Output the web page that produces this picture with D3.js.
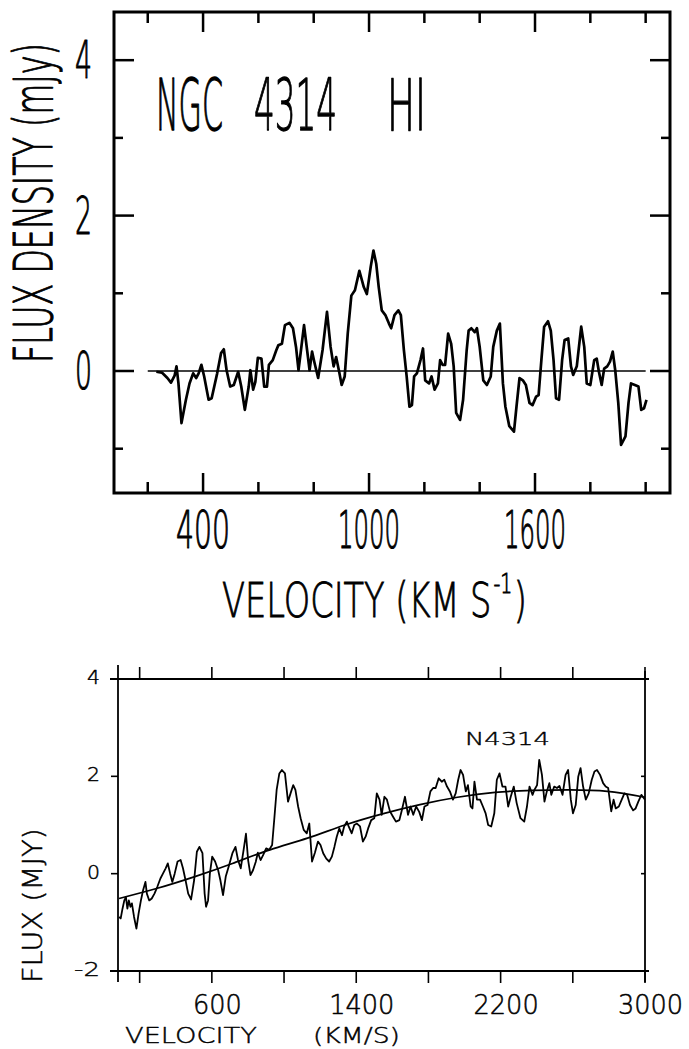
<!DOCTYPE html>
<html>
<head>
<meta charset="utf-8">
<script src="https://cdn.jsdelivr.net/npm/d3@7"></script>
<style>
html,body{margin:0;padding:0;background:#fff;}
svg{display:block;}
</style>
</head>
<body>
<script>
// ---------- DATA ----------
// Top panel: NGC 4314 HI spectrum
const topVel = [231,251,271,284,297,304,311,322,338,351,364,375,384,394,404,420,431,451,465,475,485,498,511,527,538,551,565,571,581,589,598,611,621,631,638,652,665,672,685,696,712,725,736,745,754,765,776,785,794,802,816,832,848,861,872,881,892,901,912,923,936,949,965,981,992,1006,1016,1026,1035,1046,1059,1072,1080,1092,1106,1115,1126,1136,1146,1155,1163,1173,1186,1195,1203,1217,1226,1237,1249,1257,1266,1275,1286,1297,1306,1315,1329,1340,1353,1360,1370,1382,1390,1400,1413,1426,1440,1449,1462,1473,1484,1493,1507,1524,1533,1544,1556,1567,1580,1591,1604,1613,1623,1633,1647,1657,1667,1676,1687,1698,1707,1720,1730,1738,1751,1767,1778,1787,1800,1814,1823,1831,1841,1850,1861,1871,1881,1890,1901,1911,1927,1938,1947,1961,1974,1984,1994,2003];
const topFlux = [-0.01,-0.02,-0.09,-0.15,-0.06,0.06,-0.16,-0.67,-0.37,-0.16,-0.03,-0.09,-0.03,0.08,-0.07,-0.37,-0.35,-0.03,0.23,0.28,0.01,-0.20,-0.18,-0.01,-0.20,-0.50,-0.20,0.01,-0.24,-0.14,0.17,0.16,-0.20,-0.20,0.08,0.14,0.27,0.33,0.35,0.59,0.62,0.55,0.31,0.01,0.27,0.59,0.27,0.01,0.25,0.12,-0.09,0.27,0.76,0.31,0.06,0.18,-0.01,-0.18,-0.07,0.48,0.97,1.04,1.29,1.08,0.99,1.34,1.55,1.38,1.08,0.78,0.72,0.61,0.55,0.72,0.78,0.72,0.27,-0.07,-0.46,-0.44,-0.07,-0.03,0.14,0.29,-0.12,-0.16,-0.07,-0.24,-0.16,0.14,0.08,0.08,0.48,0.35,0.06,-0.54,-0.63,-0.37,0.27,0.52,0.55,0.50,0.55,0.31,-0.12,-0.18,-0.07,0.31,0.52,0.61,-0.16,-0.46,-0.71,-0.78,-0.46,-0.09,-0.12,-0.18,-0.41,-0.44,-0.33,-0.31,0.14,0.57,0.64,0.52,0.14,-0.35,-0.37,0.14,0.40,0.42,0.06,-0.05,0.06,0.57,0.31,-0.16,-0.18,0.14,0.16,-0.01,-0.18,0.03,0.06,0.12,0.25,0.01,-0.41,-0.95,-0.84,-0.41,-0.16,-0.18,-0.20,-0.50,-0.48,-0.37];
const topZeroLine = [200, 2000];
const topXTicks = [200,400,600,800,1000,1200,1400,1600,1800,2000];
const topXLabels = [400,1000,1600];
const topYTicks = [-1,0,1,2,3,4];
const topYLabels = [0,2,4];
const topTitle = ["NGC", "4314", "HI"];
const topYTitle = "FLUX DENSITY (mJy)";
const topXTitle = "VELOCITY (KM S";
const topXTitleSup = "-1";

// Bottom panel: N4314 spectrum on sloped baseline with polynomial fit
const botVel = [86,95,105,115,124,132,140,149,157,169,182,194,207,219,232,240,253,267,282,298,315,329,344,356,369,381,394,410,427,440,454,469,485,502,517,531,548,560,568,579,589,602,618,635,647,662,677,693,714,731,745,760,776,789,801,814,828,843,855,870,884,901,918,934,947,959,974,988,1005,1022,1036,1051,1063,1078,1092,1109,1126,1140,1155,1171,1188,1202,1217,1234,1250,1265,1279,1292,1306,1321,1333,1348,1358,1375,1389,1404,1421,1437,1452,1466,1483,1500,1514,1529,1541,1556,1570,1587,1604,1620,1639,1653,1670,1687,1701,1716,1732,1749,1764,1778,1795,1811,1826,1840,1857,1874,1888,1903,1919,1936,1951,1965,1978,1992,2007,2019,2034,2044,2055,2069,2086,2102,2117,2131,2148,2165,2179,2194,2210,2227,2242,2256,2273,2289,2310,2331,2346,2360,2377,2387,2402,2414,2429,2443,2456,2470,2481,2497,2512,2526,2543,2560,2574,2589,2601,2616,2630,2643,2657,2672,2688,2705,2720,2734,2751,2768,2782,2796,2813,2826,2838,2855,2871,2886,2901,2917,2934,2948,2963,2980,2994,3000];
const botFlux = [-0.89,-0.92,-0.72,-0.55,-0.48,-0.72,-0.55,-0.68,-0.61,-0.89,-1.13,-0.82,-0.55,-0.34,-0.17,-0.41,-0.55,-0.51,-0.41,-0.27,-0.10,0.00,0.11,0.21,0.00,-0.17,0.00,0.25,0.28,0.11,-0.13,-0.41,-0.53,-0.13,0.45,0.55,0.42,-0.41,-0.68,-0.55,0.00,0.35,0.25,0.07,-0.13,-0.44,-0.06,0.14,0.42,0.55,0.28,0.11,0.49,0.82,0.28,-0.03,0.07,0.24,0.43,0.28,0.38,0.52,0.49,0.59,1.17,1.72,2.06,2.13,2.06,1.48,1.65,1.82,1.72,1.38,1.14,0.90,0.83,1.03,0.25,0.43,0.66,0.59,0.42,0.31,0.25,0.35,0.55,0.76,0.93,0.79,0.97,1.07,0.97,0.83,1.00,1.03,0.97,0.66,0.76,0.93,1.10,1.14,1.65,1.52,1.21,1.58,1.52,1.28,1.17,1.07,1.10,1.31,1.58,1.21,1.38,1.21,1.38,1.27,1.10,1.38,1.41,1.69,1.76,1.76,1.96,1.89,1.93,1.79,1.69,1.52,1.65,1.93,2.13,2.03,1.69,1.82,1.38,1.34,1.89,1.52,1.52,1.38,1.24,1.00,0.97,1.24,1.93,2.06,1.79,1.79,1.38,1.58,1.79,1.45,1.14,1.07,1.38,1.79,1.62,1.72,1.82,2.34,2.03,1.48,1.69,1.86,1.62,1.79,1.76,1.80,1.62,2.03,2.13,1.52,1.24,1.41,1.99,2.17,1.79,1.52,1.65,1.93,2.10,2.13,2.03,1.86,1.79,1.76,1.28,1.52,1.34,1.38,1.52,1.65,1.62,1.41,1.30,1.34,1.48,1.62,1.55,1.52];
const fitVel = [86,298,506,714,922,1130,1337,1545,1753,1961,2169,2377,2585,2792,3000];
const fitFlux = [-0.51,-0.30,-0.06,0.21,0.49,0.73,1.00,1.23,1.42,1.57,1.67,1.71,1.72,1.69,1.57];
const botXTicks = [200,600,1000,1400,1800,2200,2600,3000];
const botXLabels = [600,1400,2200,3000];
const botYTicks = [-2,0,2,4];
const botYLabels = ["-2","0","2","4"];
const botTag = "N4314";
const botYTitle = "FLUX  (MJY)";
const botXTitle = ["VELOCITY", "(KM/S)"];

// ---------- DRAW ----------
const W = 689, H = 1049;
const svg = d3.select("body").append("svg").attr("width", W).attr("height", H);
const plotFont = "'DejaVu Sans',sans-serif";
const lightWeight = 200;

// draws a text at natural size, then squeezes it horizontally to a target width;
// a thin non-scaling outline gives the pen-plotter stroke weight
function fitText(g, str, x, y, size, width, anchor, outline, rotate) {
  const t = g.append("text")
    .attr("font-family", plotFont).attr("font-size", size).attr("font-weight", lightWeight)
    .attr("text-anchor", anchor || "start")
    .attr("fill", "#000").attr("stroke", "#000").attr("stroke-width", outline)
    .attr("stroke-linejoin", "round")
    .attr("vector-effect", "non-scaling-stroke")
    .text(str);
  const len = t.node().getComputedTextLength();
  const s = width / len;
  t.attr("transform", `translate(${x},${y})${rotate ? " rotate(-90)" : ""} scale(${s},1)`);
  return t;
}

// ===== Top panel =====
const x1 = d3.scaleLinear().domain([78, 2088]).range([114, 670]);
const y1 = d3.scaleLinear().domain([-1.57, 4.62]).range([493, 12]);
const g1 = svg.append("g");

g1.append("rect")
  .attr("x", x1.range()[0]).attr("y", y1.range()[1])
  .attr("width", x1.range()[1] - x1.range()[0])
  .attr("height", y1.range()[0] - y1.range()[1])
  .attr("fill", "none").attr("stroke", "#000").attr("stroke-width", 3);

const isTopXMajor = v => topXLabels.includes(v);
const isTopYMajor = v => topYLabels.includes(v);
g1.selectAll(".xtb").data(topXTicks).join("line")
  .attr("x1", d => x1(d)).attr("x2", d => x1(d))
  .attr("y1", y1.range()[0]).attr("y2", d => y1.range()[0] - (isTopXMajor(d) ? 20 : 11))
  .attr("stroke", "#000").attr("stroke-width", 2.5);
g1.selectAll(".xtt").data(topXTicks).join("line")
  .attr("x1", d => x1(d)).attr("x2", d => x1(d))
  .attr("y1", y1.range()[1]).attr("y2", d => y1.range()[1] + (isTopXMajor(d) ? 20 : 11))
  .attr("stroke", "#000").attr("stroke-width", 2.5);
g1.selectAll(".ytl").data(topYTicks).join("line")
  .attr("y1", d => y1(d)).attr("y2", d => y1(d))
  .attr("x1", x1.range()[0]).attr("x2", d => x1.range()[0] + (isTopYMajor(d) ? 20 : 9))
  .attr("stroke", "#000").attr("stroke-width", 2.5);
g1.selectAll(".ytr").data(topYTicks).join("line")
  .attr("y1", d => y1(d)).attr("y2", d => y1(d))
  .attr("x1", x1.range()[1]).attr("x2", d => x1.range()[1] - (isTopYMajor(d) ? 20 : 9))
  .attr("stroke", "#000").attr("stroke-width", 2.5);

g1.append("line")
  .attr("x1", x1(topZeroLine[0])).attr("x2", x1(topZeroLine[1]))
  .attr("y1", y1(0)).attr("y2", y1(0))
  .attr("stroke", "#000").attr("stroke-width", 1.6);

g1.append("path")
  .datum(d3.zip(topVel, topFlux))
  .attr("fill", "none").attr("stroke", "#000").attr("stroke-width", 2.7)
  .attr("stroke-linejoin", "round")
  .attr("d", d3.line().x(d => x1(d[0])).y(d => y1(d[1])));

// tick labels
topXLabels.forEach(d => {
  fitText(g1, String(d), x1(d), 548, 51, String(d).length === 4 ? 62 : 54, "middle", 0.9);
});
topYLabels.forEach(d => {
  fitText(g1, String(d), 92, y1(d) + 18, 51, 17, "end", 0.9);
});

// title inside panel
const titlePos = [[156, 67], [254, 83], [387, 39]];
topTitle.forEach((d, i) => {
  fitText(g1, d, titlePos[i][0], 130, 72, titlePos[i][1], "start", 1.0);
});

// y title
fitText(g1, topYTitle, 52, 363, 54, 320, "start", 0.9, true);

// x title with superscript
(function () {
  const t = g1.append("text")
    .attr("font-family", plotFont).attr("font-size", 48).attr("font-weight", lightWeight)
    .attr("fill", "#000").attr("stroke", "#000").attr("stroke-width", 0.9)
    .attr("vector-effect", "non-scaling-stroke");
  t.append("tspan").text(topXTitle);
  t.append("tspan").attr("font-size", 27).attr("dy", -24).attr("dx", 3).text(topXTitleSup);
  t.append("tspan").attr("dy", 24).attr("dx", 2).text(")");
  const len = t.node().getComputedTextLength() + 5;
  t.attr("transform", `translate(222,617) scale(${305 / len},1)`);
})();

// ===== Bottom panel =====
const x2 = d3.scaleLinear().domain([80, 3000]).range([118, 645]);
const y2 = d3.scaleLinear().domain([-2, 4]).range([971, 679]);
const g2 = svg.append("g");
const L = x2.range()[0], R = x2.range()[1], T = y2.range()[1], B = y2.range()[0];

g2.append("line").attr("x1", L - 8).attr("x2", R + 4).attr("y1", B).attr("y2", B)
  .attr("stroke", "#000").attr("stroke-width", 1.8);
g2.append("line").attr("x1", L - 8).attr("x2", R + 4).attr("y1", T).attr("y2", T)
  .attr("stroke", "#000").attr("stroke-width", 1.8);
g2.append("line").attr("x1", L).attr("x2", L).attr("y1", T - 14).attr("y2", B + 11)
  .attr("stroke", "#000").attr("stroke-width", 1.8);
g2.append("line").attr("x1", R).attr("x2", R).attr("y1", T - 8).attr("y2", B + 11)
  .attr("stroke", "#000").attr("stroke-width", 1.8);

g2.selectAll(".bxt").data(botXTicks).join("line")
  .attr("x1", d => x2(d)).attr("x2", d => x2(d))
  .attr("y1", B).attr("y2", B + 12)
  .attr("stroke", "#000").attr("stroke-width", 1.6);
g2.selectAll(".txt").data(botXTicks).join("line")
  .attr("x1", d => x2(d)).attr("x2", d => x2(d))
  .attr("y1", T).attr("y2", T - 12)
  .attr("stroke", "#000").attr("stroke-width", 1.6);
g2.selectAll(".lyt").data(botYTicks).join("line")
  .attr("y1", d => y2(d)).attr("y2", d => y2(d))
  .attr("x1", L - 7).attr("x2", L)
  .attr("stroke", "#000").attr("stroke-width", 1.6);
g2.selectAll(".ryt").data(botYTicks).join("line")
  .attr("y1", d => y2(d)).attr("y2", d => y2(d))
  .attr("x1", R - 4).attr("x2", R)
  .attr("stroke", "#000").attr("stroke-width", 1.6);

g2.append("path")
  .datum(d3.zip(fitVel, fitFlux))
  .attr("fill", "none").attr("stroke", "#000").attr("stroke-width", 1.7)
  .attr("d", d3.line().curve(d3.curveNatural).x(d => x2(d[0])).y(d => y2(d[1])));

g2.append("path")
  .datum(d3.zip(botVel, botFlux))
  .attr("fill", "none").attr("stroke", "#000").attr("stroke-width", 1.8)
  .attr("stroke-linejoin", "round")
  .attr("d", d3.line().x(d => x2(d[0])).y(d => y2(d[1])));

// labels (thin, wide plotter lettering)
botXLabels.forEach(d => {
  fitText(g2, String(d), x2(d) + 5.5, 1014, 26, String(d).length * 16.3, "middle", 0.5);
});
botYLabels.forEach(d => {
  fitText(g2, d, 100, y2(+d) + 5, 20, d.length * 13, "end", 0.5);
});
fitText(g2, botTag, 465, 745, 18, 85, "start", 0.5);
fitText(g2, botYTitle, 42, 983, 27, 155, "start", 0.5, true);
const bxtPos = [[125, 132], [313, 87]];
botXTitle.forEach((d, i) => {
  fitText(g2, d, bxtPos[i][0], 1043, 22, bxtPos[i][1], "start", 0.5);
});
</script>
</body>
</html>
